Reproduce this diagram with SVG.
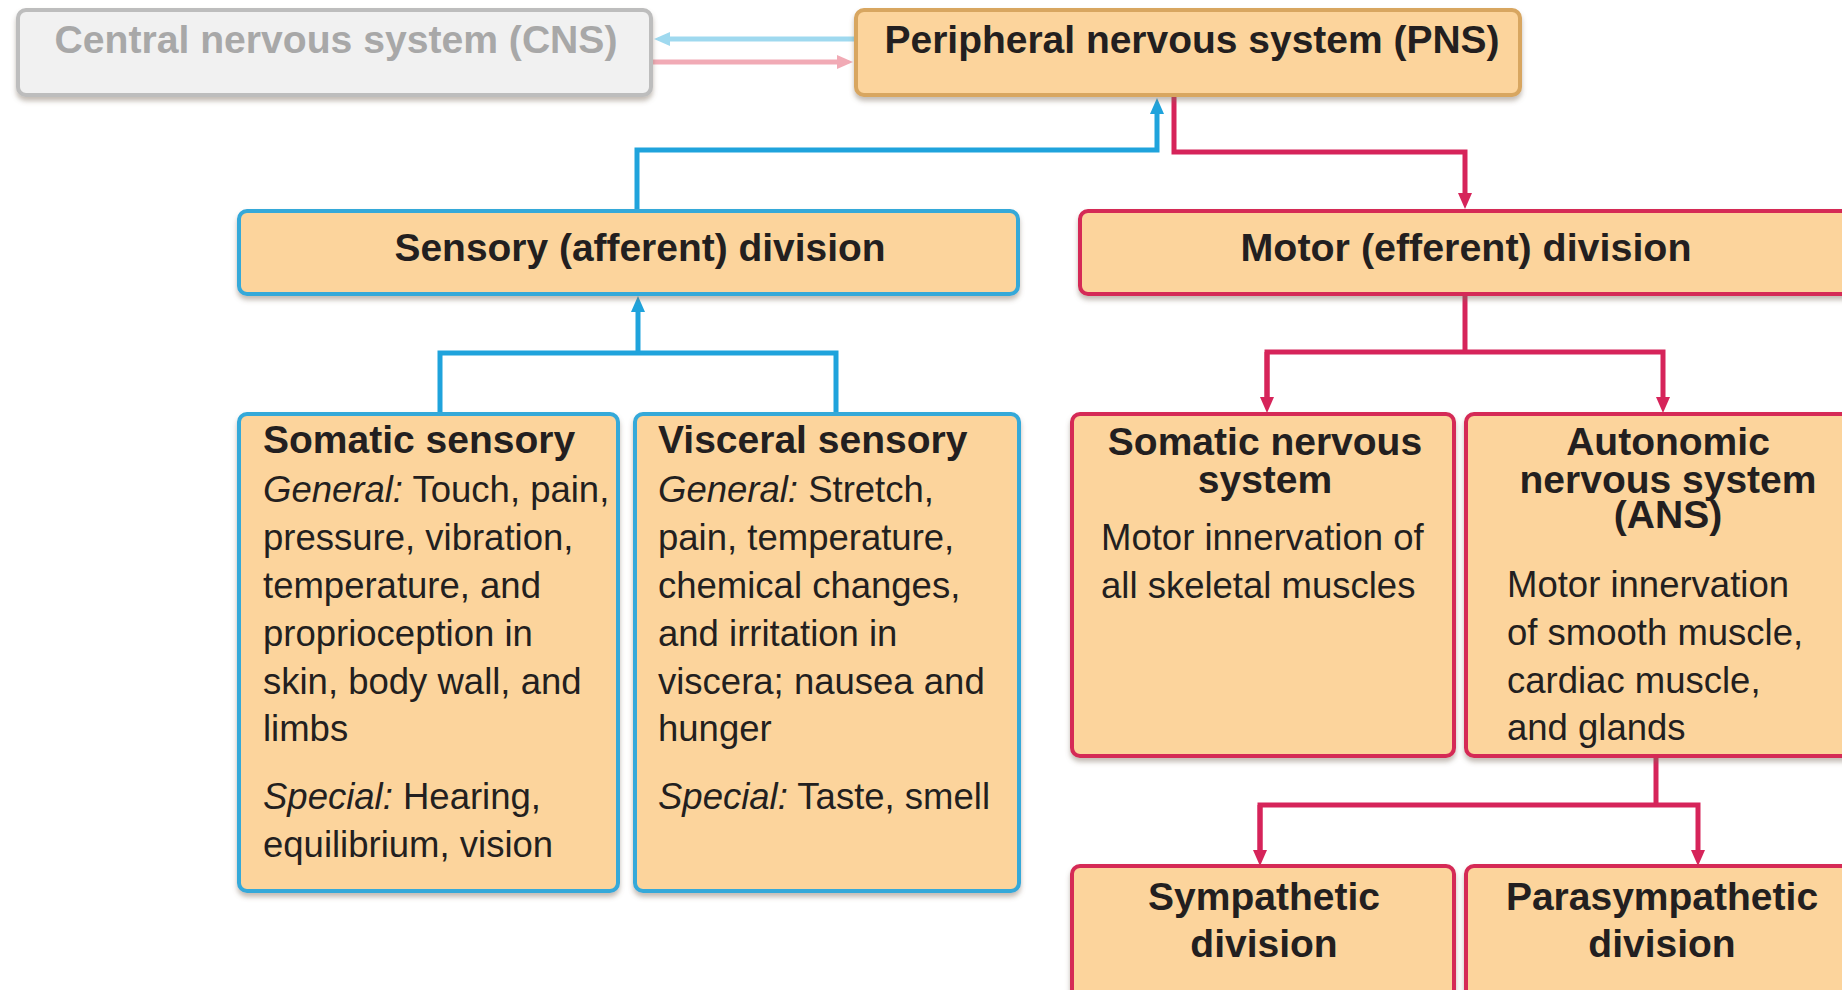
<svg xmlns="http://www.w3.org/2000/svg" width="1842" height="990" viewBox="0 0 1842 990">
<defs>
<filter id="sh" x="-5%" y="-5%" width="110%" height="120%">
<feDropShadow dx="0" dy="4" stdDeviation="2.5" flood-color="#7a6a5a" flood-opacity="0.45"/>
</filter>
<marker id="ab" markerUnits="userSpaceOnUse" markerWidth="16" markerHeight="14" refX="6" refY="7" orient="auto">
<path d="M0,0 L16,7 L0,14 z" fill="#1fa3dc"/>
</marker>
<marker id="ap" markerUnits="userSpaceOnUse" markerWidth="16" markerHeight="14" refX="6" refY="7" orient="auto">
<path d="M0,0 L16,7 L0,14 z" fill="#d6245a"/>
</marker>
<marker id="abl" markerUnits="userSpaceOnUse" markerWidth="16" markerHeight="14" refX="6" refY="7" orient="auto">
<path d="M0,0 L16,7 L0,14 z" fill="#9fd9ef"/>
</marker>
<marker id="apl" markerUnits="userSpaceOnUse" markerWidth="16" markerHeight="14" refX="6" refY="7" orient="auto">
<path d="M0,0 L16,7 L0,14 z" fill="#f1aab5"/>
</marker>
</defs>
<style>
.box{fill:#fcd49c;stroke-width:4;filter:url(#sh)}
.tan{stroke:#d8a660}
.blue{stroke:#36a9d9}
.pink{stroke:#d52c57}
.gray{fill:#f1f1f1;stroke:#bdbdbd;stroke-width:4;filter:url(#sh)}
text{font-family:"Liberation Sans",Arial,sans-serif;fill:#231f20}
.t{font-size:39px;font-weight:bold;text-anchor:middle}
.h{font-size:39px;font-weight:bold}
.hc{font-size:39px;font-weight:bold;text-anchor:middle}
.b{font-size:36.5px}
.i{font-style:italic}
.cb{fill:none;stroke:#1fa3dc;stroke-width:5}
.cp{fill:none;stroke:#d6245a;stroke-width:5}
</style>
<rect width="1842" height="990" fill="#ffffff"/>
<g id="connectors">
<path class="cb" d="M637,210 V150 H1157 V108" marker-end="url(#ab)"/>
<path class="cb" d="M440,414 V353 H836 V414"/>
<path class="cb" d="M638,353 V306" marker-end="url(#ab)"/>
<path class="cp" d="M1174,96 V152 H1465 V199" marker-end="url(#ap)"/>
<path class="cp" d="M1465,294 V352"/>
<path class="cp" d="M1267,403 V352 H1663 V403" marker-end="url(#ap)"/>
<path class="cp" d="M1267,352 V403" marker-end="url(#ap)"/>
<path class="cp" d="M1656,757 V805"/>
<path class="cp" d="M1260,856 V805 H1698 V856" marker-end="url(#ap)"/>
<path class="cp" d="M1260,805 V856" marker-end="url(#ap)"/>
<path d="M855,39 H664" fill="none" stroke="#9fd9ef" stroke-width="5" marker-end="url(#abl)"/>
<path d="M652,62 H843" fill="none" stroke="#f1aab5" stroke-width="5" marker-end="url(#apl)"/>
</g>
<g id="cns">
<rect class="gray" x="18" y="10" width="633" height="85" rx="8"/>
<text class="t" x="336" y="53" style="fill:#a8a8a8" textLength="563" lengthAdjust="spacingAndGlyphs">Central nervous system (CNS)</text>
</g>
<g id="pns">
<rect class="box tan" x="856" y="10" width="664" height="85" rx="8"/>
<text class="t" x="1192" y="53" textLength="615" lengthAdjust="spacingAndGlyphs">Peripheral nervous system (PNS)</text>
</g>
<g id="sensory">
<rect class="box blue" x="239" y="211" width="779" height="83" rx="8"/>
<text class="t" x="640" y="261" textLength="491" lengthAdjust="spacingAndGlyphs">Sensory (afferent) division</text>
</g>
<g id="motor">
<rect class="box pink" x="1080" y="211" width="820" height="83" rx="8"/>
<text class="t" x="1466" y="261" textLength="451" lengthAdjust="spacingAndGlyphs">Motor (efferent) division</text>
</g>
<g id="somatic-sensory">
<rect class="box blue" x="239" y="414" width="379" height="477" rx="8"/>
<text class="h" x="263" y="453">Somatic sensory</text>
<text class="b" x="263" y="502"><tspan class="i">General:</tspan> Touch, pain,</text>
<text class="b" x="263" y="550">pressure, vibration,</text>
<text class="b" x="263" y="598">temperature, and</text>
<text class="b" x="263" y="646">proprioception in</text>
<text class="b" x="263" y="694">skin, body wall, and</text>
<text class="b" x="263" y="741">limbs</text>
<text class="b" x="263" y="809"><tspan class="i">Special:</tspan> Hearing,</text>
<text class="b" x="263" y="857">equilibrium, vision</text>
</g>
<g id="visceral-sensory">
<rect class="box blue" x="635" y="414" width="384" height="477" rx="8"/>
<text class="h" x="658" y="453">Visceral sensory</text>
<text class="b" x="658" y="502"><tspan class="i">General:</tspan> Stretch,</text>
<text class="b" x="658" y="550">pain, temperature,</text>
<text class="b" x="658" y="598">chemical changes,</text>
<text class="b" x="658" y="646">and irritation in</text>
<text class="b" x="658" y="694">viscera; nausea and</text>
<text class="b" x="658" y="741">hunger</text>
<text class="b" x="658" y="809"><tspan class="i">Special:</tspan> Taste, smell</text>
</g>
<g id="somatic-nervous">
<rect class="box pink" x="1072" y="414" width="382" height="342" rx="8"/>
<text class="hc" x="1265" y="455">Somatic nervous</text>
<text class="hc" x="1265" y="493">system</text>
<text class="b" x="1101" y="550">Motor innervation of</text>
<text class="b" x="1101" y="598">all skeletal muscles</text>
</g>
<g id="autonomic">
<rect class="box pink" x="1466" y="414" width="430" height="342" rx="8"/>
<text class="hc" x="1668" y="455">Autonomic</text>
<text class="hc" x="1668" y="493">nervous system</text>
<text class="hc" x="1668" y="528">(ANS)</text>
<text class="b" x="1507" y="597">Motor innervation</text>
<text class="b" x="1507" y="645">of smooth muscle,</text>
<text class="b" x="1507" y="693">cardiac muscle,</text>
<text class="b" x="1507" y="740">and glands</text>
</g>
<g id="sympathetic">
<rect class="box pink" x="1072" y="866" width="382" height="160" rx="8"/>
<text class="hc" x="1264" y="910">Sympathetic</text>
<text class="hc" x="1264" y="957">division</text>
</g>
<g id="parasympathetic">
<rect class="box pink" x="1466" y="866" width="430" height="160" rx="8"/>
<text class="hc" x="1662" y="910">Parasympathetic</text>
<text class="hc" x="1662" y="957">division</text>
</g>
</svg>
